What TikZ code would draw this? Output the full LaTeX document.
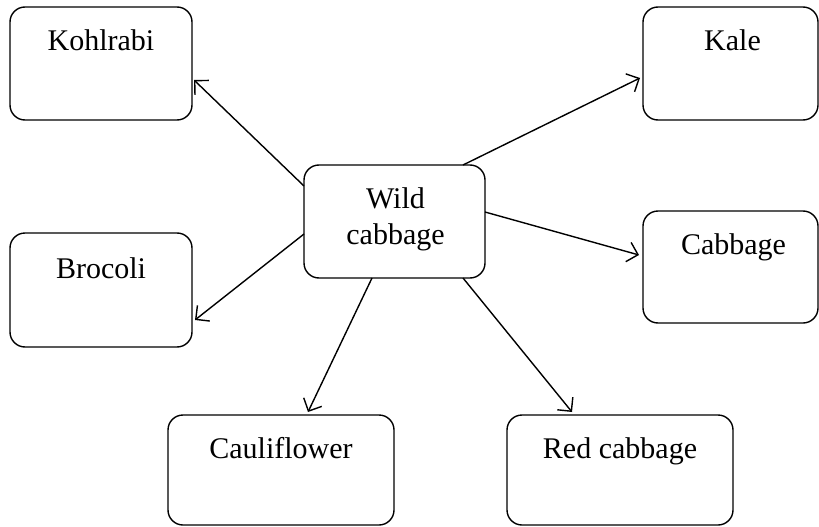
\documentclass[tikz,border=0pt]{standalone}
\usepackage{fontspec}
\setmainfont{Liberation Serif}
\usetikzlibrary{arrows.meta,calc}
\begin{document}
\begin{tikzpicture}[x=1pt,y=-1pt,
  box/.style={draw, rounded corners=15pt, line width=1.4pt, inner sep=0pt, outer sep=0pt},
  lbl/.style={font=\fontsize{30}{36}\selectfont, align=center, anchor=north, inner sep=0pt},
  arr/.style={line width=1.4pt, -{Straight Barb[length=10pt,width=20pt]}}]
\useasboundingbox (0,0) rectangle (819,527);
% boxes
\node[box, minimum width=182pt, minimum height=113pt] (kohl) at (101,63.5) {};
\node[box, minimum width=175pt, minimum height=113pt] (kale) at (730.5,63.5) {};
\node[box, minimum width=181pt, minimum height=113pt] (wild) at (394.5,221.5) {};
\node[box, minimum width=182pt, minimum height=114pt] (broc) at (101,290) {};
\node[box, minimum width=175pt, minimum height=112pt] (cabb) at (730.5,267) {};
\node[box, minimum width=226pt, minimum height=110pt] (caul) at (281,470) {};
\node[box, minimum width=226pt, minimum height=110pt] (red) at (620,470) {};
% labels
\node[lbl] (tkohl) at ($(kohl.north)+(0,22)$) {Kohlrabi};
\node[lbl] (tkale) at ($(kale.north)+(2,22)$) {Kale};
\node[lbl] (twild) at ($(wild.north)+(1,22)$) {Wild\\cabbage};
\node[lbl] (tbroc) at ($(broc.north)+(0,24)$) {Brocoli};
\node[lbl] (tcabb) at ($(cabb.north)+(3,22)$) {Cabbage};
\node[lbl] (tcaul) at ($(caul.north)+(0,22)$) {Cauliflower};
\node[lbl] (tred) at ($(red.north)+(0,22)$) {Red cabbage};
% connectors
\draw[arr] ($(wild.north west)+(0,21)$) -- ($(kohl.south east)+(2,-40)$);
\draw[arr] ($(wild.north east)+(-22,0)$) -- ($(kale.south west)+(-3,-42)$);
\draw[arr] ($(wild.north east)+(0,47)$) -- ($(cabb.north west)+(-4,44)$);
\draw[arr] ($(wild.north west)+(0,69)$) -- ($(broc.south east)+(3,-27)$);
\draw[arr] ($(wild.south west)+(68,0)$) -- ($(caul.north west)+(140,-3)$);
\draw[arr] ($(wild.south east)+(-22,0)$) -- ($(red.north west)+(65,-3)$);
\end{tikzpicture}
\end{document}
